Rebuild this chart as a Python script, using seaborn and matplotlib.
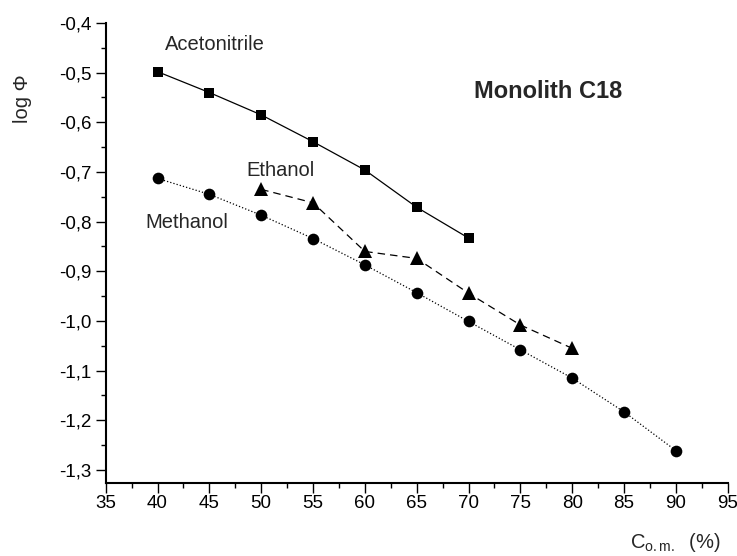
import matplotlib
matplotlib.use("Agg")
import matplotlib.pyplot as plt
import seaborn as sns
import pandas as pd
from matplotlib.ticker import MultipleLocator, FuncFormatter

# Data
acn_x = [40, 45, 50, 55, 60, 65, 70]
acn_y = [-0.498, -0.540, -0.585, -0.639, -0.696, -0.771, -0.833]

eth_x = [50, 55, 60, 65, 70, 75, 80]
eth_y = [-0.735, -0.762, -0.860, -0.874, -0.944, -1.008, -1.055]

met_x = [40, 45, 50, 55, 60, 65, 70, 75, 80, 85, 90]
met_y = [-0.713, -0.745, -0.787, -0.834, -0.887, -0.943, -1.001, -1.058, -1.115, -1.183, -1.261]

x_ticks = [35, 40, 45, 50, 55, 60, 65, 70, 75, 80, 85, 90, 95]
y_ticks = [-1.3, -1.2, -1.1, -1.0, -0.9, -0.8, -0.7, -0.6, -0.5, -0.4]

sns.set_theme(style="ticks")
plt.rcParams['font.family'] = ['Liberation Sans', 'DejaVu Sans']
plt.rcParams['mathtext.fontset'] = 'custom'
plt.rcParams['mathtext.rm'] = 'Liberation Sans'
plt.rcParams['mathtext.it'] = 'Liberation Sans'

fig = plt.figure(figsize=(7.37, 5.56), dpi=100)
ax = fig.add_axes([105.7 / 737, 1 - 482.7 / 556, (727.7 - 105.7) / 737, (482.7 - 23) / 556])

df_a = pd.DataFrame({"x": acn_x, "y": acn_y})
df_e = pd.DataFrame({"x": eth_x, "y": eth_y})
df_m = pd.DataFrame({"x": met_x, "y": met_y})

sns.lineplot(data=df_m, x="x", y="y", ax=ax, color="black", linestyle=":", linewidth=0.9,
             marker="o", markersize=8.4, markeredgewidth=0, markerfacecolor="black")
sns.lineplot(data=df_e, x="x", y="y", ax=ax, color="black", linestyle=(0, (6, 4)), linewidth=0.9,
             marker="^", markersize=9.5, markeredgewidth=0, markerfacecolor="black")
sns.lineplot(data=df_a, x="x", y="y", ax=ax, color="black", linestyle="-", linewidth=0.9,
             marker="s", markersize=7.9, markeredgewidth=0, markerfacecolor="black")

ax.set_xlim(35, 95)
ax.set_ylim(-1.3256, -0.4)
ax.set_xticks(x_ticks)
ax.set_yticks(y_ticks)
ax.xaxis.set_minor_locator(MultipleLocator(2.5))
ax.yaxis.set_minor_locator(MultipleLocator(0.05))
ax.yaxis.set_major_formatter(FuncFormatter(lambda v, p: f"{v:.1f}".replace(".", ",")))
ax.xaxis.set_major_formatter(FuncFormatter(lambda v, p: f"{int(round(v))}"))

ax.tick_params(axis="both", which="major", length=7.2, width=1.0, direction="out",
               labelsize=13.5, color="black", labelcolor="black")
ax.tick_params(axis="both", which="minor", length=3.6, width=1.0, direction="out", color="black")
ax.tick_params(axis="y", which="major", pad=3)
ax.tick_params(axis="x", which="major", pad=2)

for s in ["top", "right"]:
    ax.spines[s].set_visible(False)
for s in ["left", "bottom"]:
    ax.spines[s].set_linewidth(1.5)
    ax.spines[s].set_color("black")

ax.set_xlabel("")
ax.set_ylabel("")
ax.grid(False)

fig.text(22 / 737, 1 - 99 / 556, "log Φ", rotation=90, ha="center", va="center", fontsize=14.5)
fig.text(630 / 737, 1 - 542 / 556, r"C$_{\mathrm{o.m.}}$  (%)", ha="left", va="center", fontsize=14.5)

ax.text(215 / 737, 1 - 45 / 556, "Acetonitrile", transform=fig.transFigure,
        ha="center", va="center", fontsize=14.5)
ax.text(281 / 737, 1 - 170.7 / 556, "Ethanol", transform=fig.transFigure,
        ha="center", va="center", fontsize=14.5)
ax.text(187 / 737, 1 - 222.7 / 556, "Methanol", transform=fig.transFigure,
        ha="center", va="center", fontsize=14.5)
ax.text(548 / 737, 1 - 91.7 / 556, "Monolith C18", transform=fig.transFigure,
        ha="center", va="center", fontsize=17, fontweight="bold")

fig.savefig("out.png", dpi=100)
